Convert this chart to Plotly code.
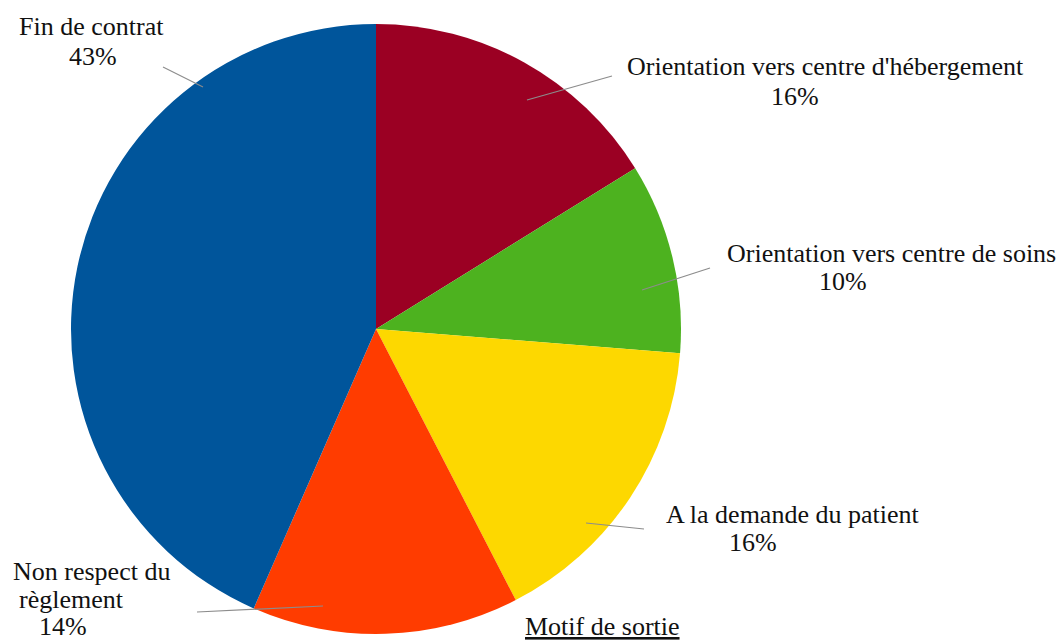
import plotly.graph_objects as go

W, H = 1062, 642

# data (clockwise from 12 o'clock)
motifs = ["Orientation vers centre d'hébergement", "Orientation vers centre de soins",
          "A la demande du patient", "Non respect du règlement", "Fin de contrat"]
pourcentages = [16, 10, 16, 14, 43]
couleurs = ["#9b0023", "#4db21f", "#fdd800", "#ff3c00", "#00559b"]

# label placement in pixels: (lines of name, name line centres, percent centre, leader line)
label_layout = [
    (["Orientation vers centre d'hébergement"], [(825, 67)], (795, 97), ((527, 100), (612, 76))),
    (["Orientation vers centre de soins"], [(891, 253)], (843, 281), ((642, 290), (710, 268))),
    (["A la demande du patient"], [(792, 514)], (753, 542), ((586, 523), (644, 529))),
    (["Non respect du", "règlement"], [(91, 571), (71, 599)], (63, 626), ((197, 612), (323, 606))),
    (["Fin de contrat"], [(91, 27)], (93, 56), ((163, 67), (203, 87))),
]


def px(x, y):
    return x / W, 1 - y / H


font = dict(family="Liberation Serif, Times New Roman, serif", size=26, color="#111111")

fig = go.Figure(go.Pie(
    labels=motifs,
    values=pourcentages,
    marker=dict(colors=couleurs, line=dict(width=0)),
    sort=False,
    direction="clockwise",
    rotation=0,
    textinfo="none",
    hoverinfo="label+percent",
    domain=dict(x=[71 / W, 681 / W], y=[1 - 634 / H, 1 - 24 / H]),
))

annotations = []
shapes = []
for val, (lines, centres, pc, leader) in zip(pourcentages, label_layout):
    for txt, (cx, cy) in zip(lines, centres):
        x, y = px(cx, cy)
        annotations.append(dict(x=x, y=y, xref="paper", yref="paper", text=txt, showarrow=False,
                                xanchor="center", yanchor="middle", font=font))
    x, y = px(*pc)
    annotations.append(dict(x=x, y=y, xref="paper", yref="paper", text=f"{val}%", showarrow=False,
                            xanchor="center", yanchor="middle", font=font))
    (x0, y0), (x1, y1) = leader
    a0, b0 = px(x0, y0)
    a1, b1 = px(x1, y1)
    shapes.append(dict(type="line", xref="paper", yref="paper", x0=a0, y0=b0, x1=a1, y1=b1,
                       line=dict(color="#8c8c8c", width=1.2)))

x, y = px(602, 626)
annotations.append(dict(x=x, y=y, xref="paper", yref="paper", text="<u>Motif de sortie</u>",
                        showarrow=False, xanchor="center", yanchor="middle", font=font))

fig.update_layout(
    width=W, height=H,
    margin=dict(l=0, r=0, t=0, b=0),
    paper_bgcolor="white",
    showlegend=False,
    annotations=annotations,
    shapes=shapes,
)

# page body has a default 8px margin; drop it so the figure fills the window
fig.write_html("out.html", config={"displayModeBar": False},
               post_script="document.body.style.margin='0';document.body.style.overflow='hidden';")
